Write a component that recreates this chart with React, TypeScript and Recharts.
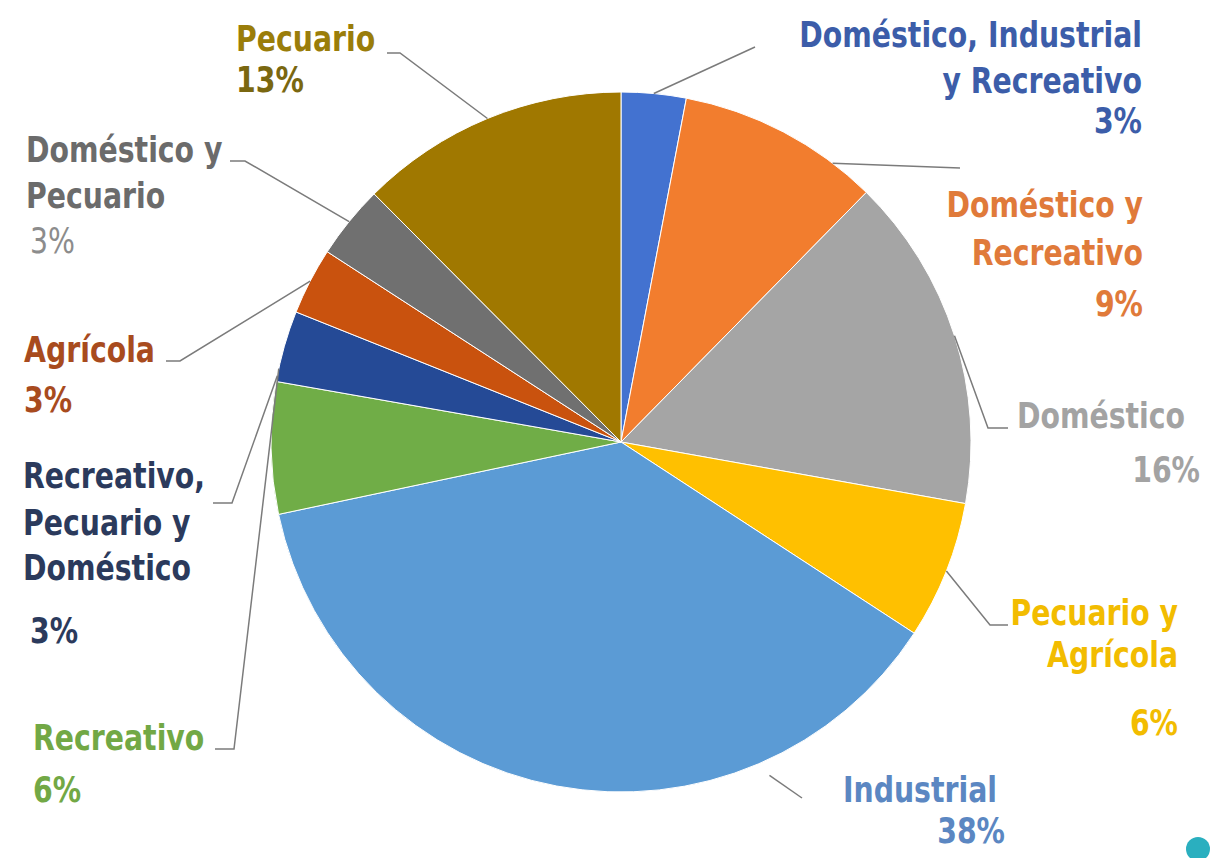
import { PieChart, Pie, Cell } from "recharts";

// slices, clockwise from 12 o'clock
const categories = [
  "Doméstico, Industrial\ny Recreativo",
  "Doméstico y\nRecreativo",
  "Doméstico",
  "Pecuario y\nAgrícola",
  "Industrial",
  "Recreativo",
  "Recreativo,\nPecuario y\nDoméstico",
  "Agrícola",
  "Doméstico y\nPecuario",
  "Pecuario",
];
const values = [3.0, 9.4, 15.5, 6.4, 37.6, 6.1, 3.3, 3.1, 3.4, 12.5];

const sliceColors = [
  "#4372d0", "#f27d2e", "#a5a5a5", "#ffc000", "#5b9bd5",
  "#70ad47", "#254a96", "#c9520e", "#707070", "#a07800",
];
const textColors = [
  "#3c5da9", "#e07a3a", "#a3a3a3", "#f2bc00", "#5b87c2",
  "#72a845", "#2b3a5c", "#a84b1e", "#6b6b6b", "#9a7d0a",
];

const data = categories.map((name, i) => ({ name, value: values[i] }));

const CX = 621;
const CY = 442;
const R = 350;
const RAD = Math.PI / 180;

// label placement, offsets from the pie centre
type Layout = {
  from?: number; // leader start angle, degrees clockwise from top
  fromR?: number;
  path: [number, number][];
  anchor: "start" | "end";
  lines: [number, number][];
  pctColor?: string;
  pctWeight?: number;
};

const layout: Layout[] = [
  { path: [[134, -395]], anchor: "end", lines: [[521, -395], [521, -349], [521, -309]] },
  { from: 37.2, path: [[339, -274]], anchor: "end", lines: [[522, -225], [522, -177], [522, -126]] },
  { path: [[367, -14], [387, -14]], anchor: "end", lines: [[564, -14], [579, 40]] },
  { path: [[369, 183], [387, 183]], anchor: "end", lines: [[557, 183], [557, 225], [557, 293]] },
  { from: 156, fromR: 365, path: [[181, 356]], anchor: "end", lines: [[376, 360], [384, 401]] },
  { from: 282.1, path: [[-387, 307], [-406, 307]], anchor: "start", lines: [[-588, 308], [-588, 360]] },
  { from: 280.9, path: [[-389, 61], [-408, 61]], anchor: "start", lines: [[-598, 46], [-598, 93], [-598, 138], [-591, 201]] },
  { path: [[-441, -81], [-455, -81]], anchor: "start", lines: [[-597, -80], [-597, -30]] },
  { path: [[-376, -281], [-391, -281]], anchor: "start", lines: [[-595, -280], [-595, -234], [-591, -189]], pctColor: "#8c8c8c", pctWeight: 400 },
  { path: [[-221, -389], [-234, -389]], anchor: "start", lines: [[-385, -391], [-385, -350]], pctColor: "#7a6710" },
];

const FONT = '"DejaVu Sans Condensed", "DejaVu Sans", sans-serif';
const SQUEEZE = 0.9; // the original face is narrower than DejaVu Condensed

function renderLabel(props: any) {
  const { cx, cy, midAngle, outerRadius, index, value, name } = props;
  const l = layout[index];
  let sx: number, sy: number;
  if (l.from !== undefined) {
    const r = l.fromR ?? outerRadius;
    sx = cx + r * Math.sin(l.from * RAD);
    sy = cy - r * Math.cos(l.from * RAD);
  } else {
    sx = cx + outerRadius * Math.cos(-midAngle * RAD);
    sy = cy + outerRadius * Math.sin(-midAngle * RAD);
  }
  const pts = [[sx, sy], ...l.path.map(([dx, dy]) => [cx + dx, cy + dy])];
  const texts = [...String(name).split("\n"), `${Math.round(value)}%`];
  return (
    <g key={`lbl-${index}`}>
      <polyline
        points={pts.map((p) => p.join(",")).join(" ")}
        fill="none"
        stroke="#7b7b7b"
        strokeWidth={1.5}
      />
      {texts.map((t, i) => {
        const isPct = i === texts.length - 1;
        return (
          <text
            key={i}
            x={0}
            y={0}
            transform={`translate(${cx + l.lines[i][0]},${cy + l.lines[i][1]}) scale(${SQUEEZE},1)`}
            textAnchor={l.anchor}
            fill={isPct && l.pctColor ? l.pctColor : textColors[index]}
            fontFamily={FONT}
            fontWeight={isPct && l.pctWeight ? l.pctWeight : 700}
            fontSize={35}
          >
            {t}
          </text>
        );
      })}
    </g>
  );
}

export default function App() {
  return (
    <div style={{ position: "absolute", left: 0, top: 0, width: 1216, height: 858, background: "#fff", overflow: "hidden" }}>
      <PieChart width={1216} height={858} margin={{ top: 0, right: 0, bottom: 0, left: 0 }}>
        <Pie
          data={data}
          dataKey="value"
          nameKey="name"
          cx={CX}
          cy={CY}
          outerRadius={R}
          startAngle={90}
          endAngle={-270}
          stroke="#ffffff"
          strokeWidth={1}
          label={renderLabel}
          labelLine={false}
          isAnimationActive={false}
        >
          {data.map((entry, index) => (
            <Cell key={`cell-${index}`} fill={sliceColors[index]} />
          ))}
        </Pie>
      </PieChart>
      <div
        style={{
          position: "absolute",
          left: 1186,
          top: 837,
          width: 24,
          height: 24,
          borderRadius: "50%",
          background: "#2aafbf",
        }}
      />
    </div>
  );
}
